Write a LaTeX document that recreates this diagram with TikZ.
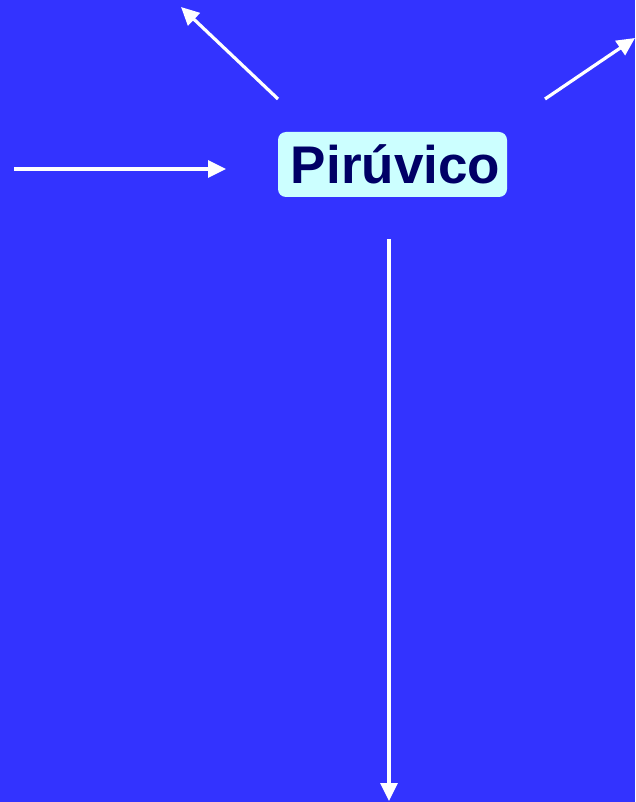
\documentclass[tikz,border=0pt]{standalone}
\usepackage{fontspec}
\setmainfont{Liberation Sans}
\usetikzlibrary{arrows.meta}
\definecolor{bgblue}{HTML}{3333FF}
\definecolor{boxfill}{HTML}{CCFFFF}
\definecolor{navy}{HTML}{000066}
\tikzset{
  arr/.style={draw=white, line width=3.2pt, -{Triangle[length=18pt,width=17pt]}},
  boxnode/.style={fill=boxfill, rounded corners=8pt, text=navy, font=\fontsize{53}{60}\selectfont\bfseries, minimum width=229pt, minimum height=65pt, inner sep=0pt}
}
\begin{document}
\begin{tikzpicture}[x=1pt,y=-1pt]
\fill[bgblue] (0,0) rectangle (635,802);
\useasboundingbox (0,0) rectangle (635,802);
\node[boxnode] (pir) at (392.5,164.5) {\hspace{6pt}Pirúvico};
\coordinate (a1s) at (278,99);
\coordinate (a1e) at (181,7);
\coordinate (a2s) at (545,99);
\coordinate (a2e) at (635,38);
\coordinate (a3s) at (14,169);
\coordinate (a3e) at (226,169);
\coordinate (a4s) at (389,239);
\coordinate (a4e) at (389,801);
\draw[arr] (a1s) -- (a1e);
\draw[arr] (a2s) -- (a2e);
\draw[arr] (a3s) -- (a3e);
\draw[arr] (a4s) -- (a4e);
\end{tikzpicture}
\end{document}
